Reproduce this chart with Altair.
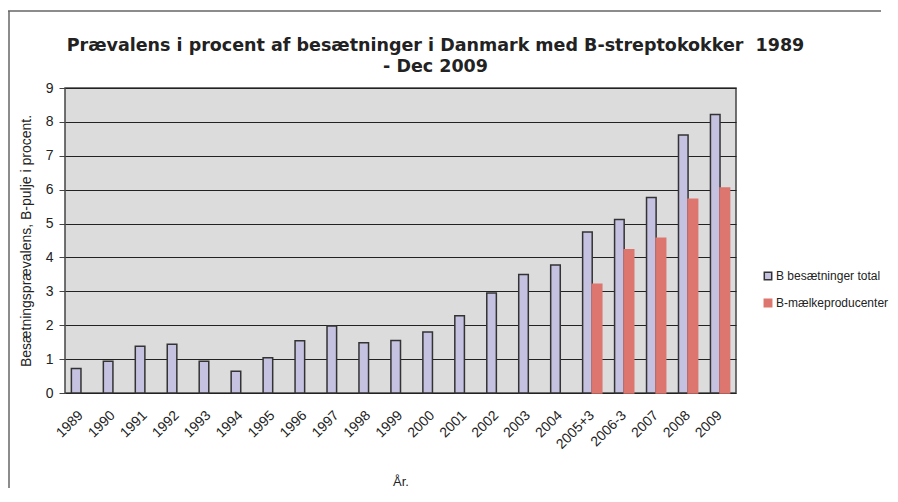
import altair as alt
import pandas as pd

categories = ["1989", "1990", "1991", "1992", "1993", "1994", "1995", "1996", "1997",
              "1998", "1999", "2000", "2001", "2002", "2003", "2004", "2005+3",
              "2006-3", "2007", "2008", "2009"]
total = [0.72, 0.94, 1.38, 1.44, 0.94, 0.64, 1.04, 1.54, 1.98, 1.48, 1.55, 1.80,
         2.28, 2.95, 3.50, 3.78, 4.75, 5.12, 5.77, 7.61, 8.22]
milk = [None] * 16 + [3.21, 4.23, 4.57, 5.72, 6.05]
series = ["B besætninger total", "B-mælkeproducenter"]

rows = []
for c, t, m in zip(categories, total, milk):
    rows.append({"year": c, "series": series[0], "value": t})
    if m is not None:
        rows.append({"year": c, "series": series[1], "value": m})
df = pd.DataFrame(rows)

W, H = 671, 305

legend_kw = dict(title=None, orient="none", legendX=697, legendY=182,
                 symbolType="square", symbolSize=55, rowPadding=13, labelOffset=2,
                 labelFont="Liberation Sans", labelFontSize=12, labelColor="#222",
                 symbolStrokeWidth=1.5)

bars = alt.Chart(df).mark_bar(strokeWidth=1.5).encode(
    x=alt.X("year:N", sort=categories, title="År.",
            scale=alt.Scale(paddingInner=0.4, paddingOuter=0.2),
            axis=alt.Axis(labelAngle=-45, labelAlign="right", labelBaseline="middle",
                          labelFont="Liberation Sans", labelFontSize=14, labelColor="#222",
                          labelPadding=20, ticks=False, domain=False, grid=False,
                          titleFont="Liberation Sans", titleFontSize=13,
                          titleFontWeight="normal", titleColor="#222", titlePadding=24)),
    xOffset=alt.XOffset("series:N", scale=alt.Scale(domain=series, paddingInner=0)),
    y=alt.Y("value:Q", title="Besætningsprævalens, B-pulje i procent.",
            scale=alt.Scale(domain=[0, 9], nice=False),
            axis=alt.Axis(values=list(range(10)), tickCount=10, labelFont="Liberation Sans",
                          labelFontSize=14, labelColor="#222", tickSize=6, tickColor="#444",
                          domain=False, gridColor="#222", gridWidth=1.2, labelPadding=6,
                          titleFont="Liberation Sans", titleFontSize=14,
                          titleFontWeight="normal", titleColor="#222", titlePadding=12)),
    color=alt.Color("series:N", scale=alt.Scale(domain=series, range=["#C4C2E0", "#DC766F"]),
                    legend=alt.Legend(**legend_kw)),
    stroke=alt.Stroke("series:N", scale=alt.Scale(domain=series, range=["#333333", "#DC766F"]),
                      legend=alt.Legend(**legend_kw)),
)

frame_src = alt.Chart(pd.DataFrame({"a": [0]}))
frame_top = frame_src.mark_rule(color="#666", strokeWidth=1.5).encode(
    x=alt.value(-57), x2=alt.value(W + 145), y=alt.value(-77))
frame_left = frame_src.mark_rule(color="#666", strokeWidth=1.5).encode(
    x=alt.value(-56), y=alt.value(-77), y2=alt.value(H + 95))

chart = alt.layer(frame_top, frame_left, bars).properties(
    width=W, height=H,
    title=alt.Title(["Prævalens i procent af besætninger i Danmark med B-streptokokker\u00a0 1989",
                     "- Dec 2009"],
                    font="DejaVu Sans", fontSize=17.5, fontWeight="bold", color="#222",
                    anchor="middle", frame="group", dx=35, offset=-65, lineHeight=21),
    autosize=alt.AutoSizeParams(type="none"),
    padding={"left": 57, "top": 80, "right": 154, "bottom": 101},
    background="white",
).configure_view(fill="#DCDCDC", stroke="#444", strokeWidth=1.5)

chart.save("out.html", embed_options={"renderer": "svg", "actions": False})
